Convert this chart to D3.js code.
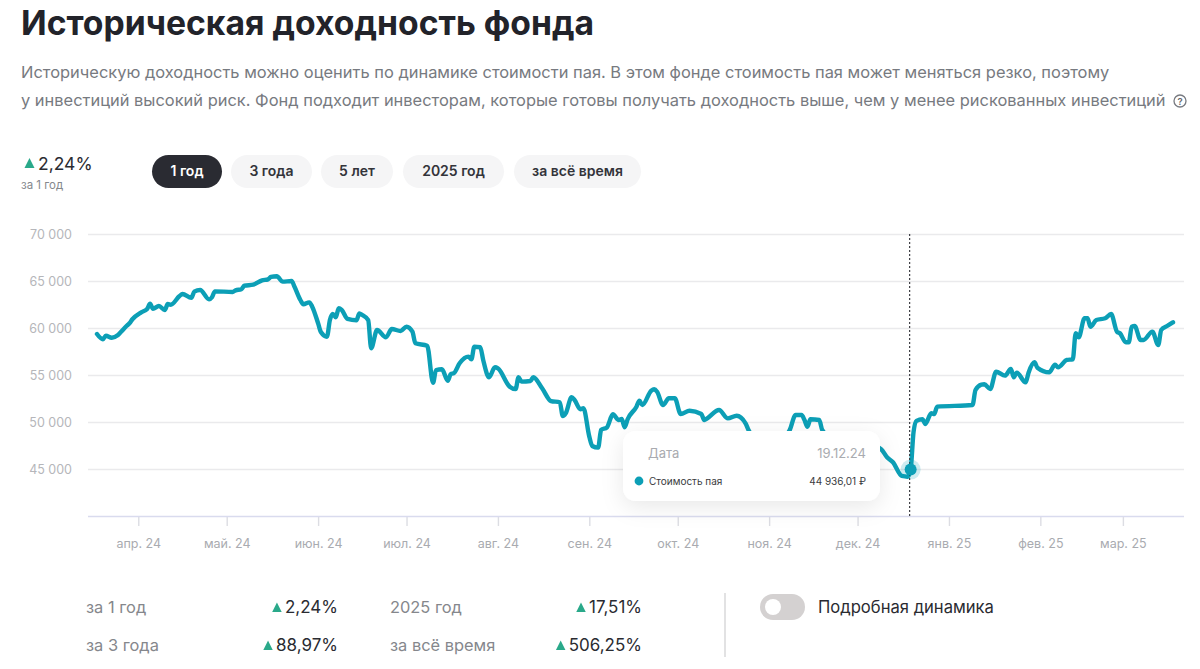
<!DOCTYPE html>
<html lang="ru">
<head>
<meta charset="utf-8">
<title>Историческая доходность фонда</title>
<script src="https://cdn.jsdelivr.net/npm/d3@7"></script>
<style>
  html, body { margin: 0; padding: 0; background: #fff; }
  svg { display: block; font-family: Inter, "Noto Sans", sans-serif; }
</style>
</head>
<body>
<svg id="chart" width="1200" height="669"></svg>
<script>
// days since 18.03.24
const days = [0,2,3,5,7,8,10,11,12,15,17,18,19,21,23,24,25,28,29,32,33,35,38,39,40,46,47,49,50,53,56,58,59,61,63,66,67,69,70,72,73,75,76,78,79,80,81,82,83,85,88,89,90,92,93,95,98,100,103,105,107,108,112,114,115,117,119,120,121,123,126,127,128,130,131,133,135,136,140,142,143,144,147,148,151,154,157,158,159,161,162,164,165,167,168,170,171,173,175,177,178,179,180,183,184,185,188,189,190,192,194,196,198,201,205,206,207,211,214,217,220,221,223,227,231,235,237,239,240,241,242,245,246,250,256,261,266,268,270,273,275,276,277,278,280,281,283,284,285,297,298,300,301,303,305,308,310,311,312,315,316,318,319,323,325,326,329,331,332,333,335,336,337,339,342,344,346,347,349,350,351,352,354,355,358,360,361,363,365];
const prices = [59360,58800,59180,58970,59220,59540,60210,60500,60930,61670,62020,62590,62050,62340,61920,62550,62480,63400,63620,63220,63860,64040,63050,63270,63900,63830,64010,64120,64500,64610,65070,65180,65430,65500,64930,65000,64390,62980,62520,62730,62270,60500,59540,59070,60850,61490,61140,62100,61920,60960,60820,61560,61380,60850,57840,59790,59010,59890,59680,60140,59610,58370,58120,54180,55530,55610,54390,55110,55180,56250,56950,56670,58010,57950,56600,54760,55820,55710,53760,53510,54760,54290,54360,54760,53590,52230,52100,50640,50930,52630,52340,51350,51460,48440,47450,47270,49150,49440,50820,50210,50320,49440,50290,51630,52270,51810,53330,53480,53220,51810,52520,52520,50850,51200,50850,50210,50390,51280,50390,50670,49860,49150,48090,47240,47870,49150,50750,50750,50210,49500,50290,50210,49150,48100,47900,47700,47100,46250,45710,44260,44180,44936,48970,50110,50290,49790,50930,50850,51630,51810,53400,53970,54010,53510,55350,54930,55640,54760,55250,54220,55250,56350,55780,55290,56100,55820,56600,56670,59440,59010,61030,61030,60140,60850,61030,61490,59610,59440,58480,58480,60140,60210,58720,58720,59610,58190,59790,60210,60610];

const yTicks = [45000, 50000, 55000, 60000, 65000, 70000];
const monthLabels = ['апр. 24','май. 24','июн. 24','июл. 24','авг. 24','сен. 24','окт. 24','ноя. 24','дек. 24','янв. 25','фев. 25','мар. 25'];
const monthStarts = ['2024-04-01','2024-05-01','2024-06-01','2024-07-01','2024-08-01','2024-09-01','2024-10-01','2024-11-01','2024-12-01','2025-01-01','2025-02-01','2025-03-01'];

const periodButtons = ['1 год','3 года','5 лет','2025 год','за всё время'];
const buttonEdges = [[152,222],[231,312],[321,393],[403,504],[514,641]];
const summaryNames = ['за 1 год','за 3 года','2025 год','за всё время'];
const summaryValues = ['2,24%','88,97%','17,51%','506,25%'];

const markerDay = 276;
const markerDate = '19.12.24';
const markerPrice = '44 936,01 ₽';

const teal = '#0c9fb6';
const green = '#2aa98a';
const svg = d3.select('#chart');
const parseDay = d3.utcParse('%Y-%m-%d');
const startDate = parseDay('2024-03-18');
const toDate = (d) => d3.utcDay.offset(startDate, d);

const x = d3.scaleUtc().domain([startDate, toDate(365)]).range([97, 1173]);
const y = d3.scaleLinear().domain([40000, 70000]).range([516, 234]);

function triangle(cx, base, w, h) {
  svg.append('path')
    .attr('d', `M${cx - w / 2},${base}L${cx + w / 2},${base}L${cx},${base - h}Z`)
    .attr('fill', green);
}

// header
svg.append('text').attr('x', 21).attr('y', 35)
  .attr('font-size', 33.7).attr('font-weight', 700).attr('fill', '#22232a')
  .text('Историческая доходность фонда');

const intro = [
  'Историческую доходность можно оценить по динамике стоимости пая. В этом фонде стоимость пая может меняться резко, поэтому',
  'у инвестиций высокий риск. Фонд подходит инвесторам, которые готовы получать доходность выше, чем у менее рискованных инвестиций'
];
svg.selectAll('.intro').data(intro).join('text')
  .attr('class', 'intro')
  .attr('x', 21).attr('y', (d, i) => 78 + i * 28)
  .attr('font-size', 16.45).attr('fill', '#777a80')
  .text((d) => d);

svg.append('circle').attr('cx', 1180).attr('cy', 101).attr('r', 6)
  .attr('fill', 'none').attr('stroke', '#777a80').attr('stroke-width', 1.3);
svg.append('text').attr('x', 1180).attr('y', 104.5).attr('text-anchor', 'middle')
  .attr('font-size', 9.5).attr('font-weight', 600).attr('fill', '#66696f').text('?');

// period block
triangle(29.5, 168, 10, 10);
svg.append('text').attr('x', 38).attr('y', 170).attr('font-size', 17.5).attr('fill', '#2a2b31').text('2,24%');
svg.append('text').attr('x', 21).attr('y', 189).attr('font-size', 11.5).attr('fill', '#85888d').text('за 1 год');

const btn = svg.selectAll('.btn').data(periodButtons).join('g').attr('class', 'btn');
btn.append('rect')
  .attr('x', (d, i) => buttonEdges[i][0])
  .attr('width', (d, i) => buttonEdges[i][1] - buttonEdges[i][0])
  .attr('y', 155).attr('height', 33).attr('rx', 16.5)
  .attr('fill', (d, i) => (i === 0 ? '#2a2b32' : '#f5f5f6'));
btn.append('text')
  .attr('x', (d, i) => (buttonEdges[i][0] + buttonEdges[i][1]) / 2)
  .attr('y', 176).attr('text-anchor', 'middle')
  .attr('font-size', 14).attr('font-weight', 600)
  .attr('fill', (d, i) => (i === 0 ? '#fff' : '#33343a'))
  .text((d) => d);

// axes
const yAxis = svg.append('g').attr('transform', 'translate(88,0)')
  .call(d3.axisLeft(y).tickValues(yTicks).tickSize(-1096).tickPadding(0)
    .tickFormat((d) => d3.format(',')(d).replace(',', ' ')));
yAxis.select('.domain').remove();
yAxis.selectAll('line').attr('stroke', '#eaeaec').attr('stroke-width', 1.4);
yAxis.selectAll('text').attr('x', -16).attr('font-size', 12.5)
  .attr('font-family', 'Inter, sans-serif').attr('fill', '#b5b6ba');

const monthDates = monthStarts.map(parseDay);
const xAxis = svg.append('g').attr('transform', 'translate(0,516)')
  .call(d3.axisBottom(x).tickValues(monthDates).tickSize(10).tickPadding(13)
    .tickFormat((d, i) => monthLabels[i]));
xAxis.select('.domain').remove();
xAxis.selectAll('line').attr('stroke', '#dcdde3').attr('stroke-width', 1.4);
xAxis.selectAll('text').attr('font-size', 12.5)
  .attr('font-family', 'Inter, sans-serif').attr('fill', '#a9abb0');
svg.append('line').attr('x1', 88).attr('x2', 1184).attr('y1', 516.5).attr('y2', 516.5)
  .attr('stroke', '#d9dbee').attr('stroke-width', 1.5);

// fund line
const line = d3.line()
  .x((d) => x(toDate(d)))
  .y((d, i) => y(prices[i]))
  .curve(d3.curveMonotoneX);
svg.append('path').datum(days)
  .attr('d', line)
  .attr('fill', 'none').attr('stroke', teal)
  .attr('stroke-width', 4.4).attr('stroke-linejoin', 'round').attr('stroke-linecap', 'round');

// hover marker
const mx = x(toDate(markerDay));
const my = y(prices[days.indexOf(markerDay)]);
svg.append('line').attr('x1', mx - 1).attr('x2', mx - 1).attr('y1', 234).attr('y2', 516)
  .attr('stroke', '#3c3d42').attr('stroke-width', 1.2).attr('stroke-dasharray', '2 2');
svg.append('circle').attr('cx', mx).attr('cy', my).attr('r', 10).attr('fill', teal).attr('opacity', 0.2);
svg.append('circle').attr('cx', mx).attr('cy', my).attr('r', 6).attr('fill', teal);

// tooltip
const defs = svg.append('defs');
const shadow = defs.append('filter').attr('id', 'tipShadow')
  .attr('x', '-20%').attr('y', '-40%').attr('width', '140%').attr('height', '200%');
shadow.append('feDropShadow').attr('dx', 0).attr('dy', 6).attr('stdDeviation', 11)
  .attr('flood-color', '#000').attr('flood-opacity', 0.09);
svg.append('rect').attr('x', 623).attr('y', 431).attr('width', 257).attr('height', 70)
  .attr('rx', 13).attr('fill', '#fff').attr('filter', 'url(#tipShadow)');
svg.append('text').attr('x', 648).attr('y', 458).attr('font-size', 13).attr('fill', '#a9abb0').text('Дата');
svg.append('text').attr('x', 866).attr('y', 458).attr('text-anchor', 'end').attr('font-size', 13).attr('fill', '#a9abb0').text(markerDate);
svg.append('circle').attr('cx', 639).attr('cy', 481).attr('r', 4.4).attr('fill', teal);
svg.append('text').attr('x', 649).attr('y', 485).attr('font-size', 10).attr('fill', '#3a3b40').text('Стоимость пая');
svg.append('text').attr('x', 866).attr('y', 485).attr('text-anchor', 'end').attr('font-size', 10).attr('fill', '#3a3b40').text(markerPrice);

// summary under the chart
const rowY = [613, 651];
const nameX = [86, 390];
const valueX = [338, 642];
summaryNames.forEach((name, i) => {
  const col = i < 2 ? 0 : 1;
  const row = i % 2;
  svg.append('text').attr('x', nameX[col]).attr('y', rowY[row])
    .attr('font-size', 16.4).attr('fill', '#85878c').text(name);
  const val = svg.append('text').attr('x', valueX[col]).attr('y', rowY[row])
    .attr('text-anchor', 'end').attr('font-size', 17).attr('fill', '#2a2b31')
    .text(summaryValues[i]);
  const w = val.node().getComputedTextLength();
  triangle(valueX[col] - w - 8, rowY[row] - 1, 9.5, 9.5);
});

svg.append('line').attr('x1', 725).attr('x2', 725).attr('y1', 593).attr('y2', 657)
  .attr('stroke', '#d8d8da').attr('stroke-width', 1.5);
svg.append('rect').attr('x', 760).attr('y', 594).attr('width', 45).attr('height', 26)
  .attr('rx', 13).attr('fill', '#d4d1d1');
svg.append('circle').attr('cx', 773).attr('cy', 607).attr('r', 8).attr('fill', '#fff');
svg.append('text').attr('x', 818).attr('y', 613).attr('font-size', 16.6).attr('fill', '#2a2b31').text('Подробная динамика');
</script>
</body>
</html>
